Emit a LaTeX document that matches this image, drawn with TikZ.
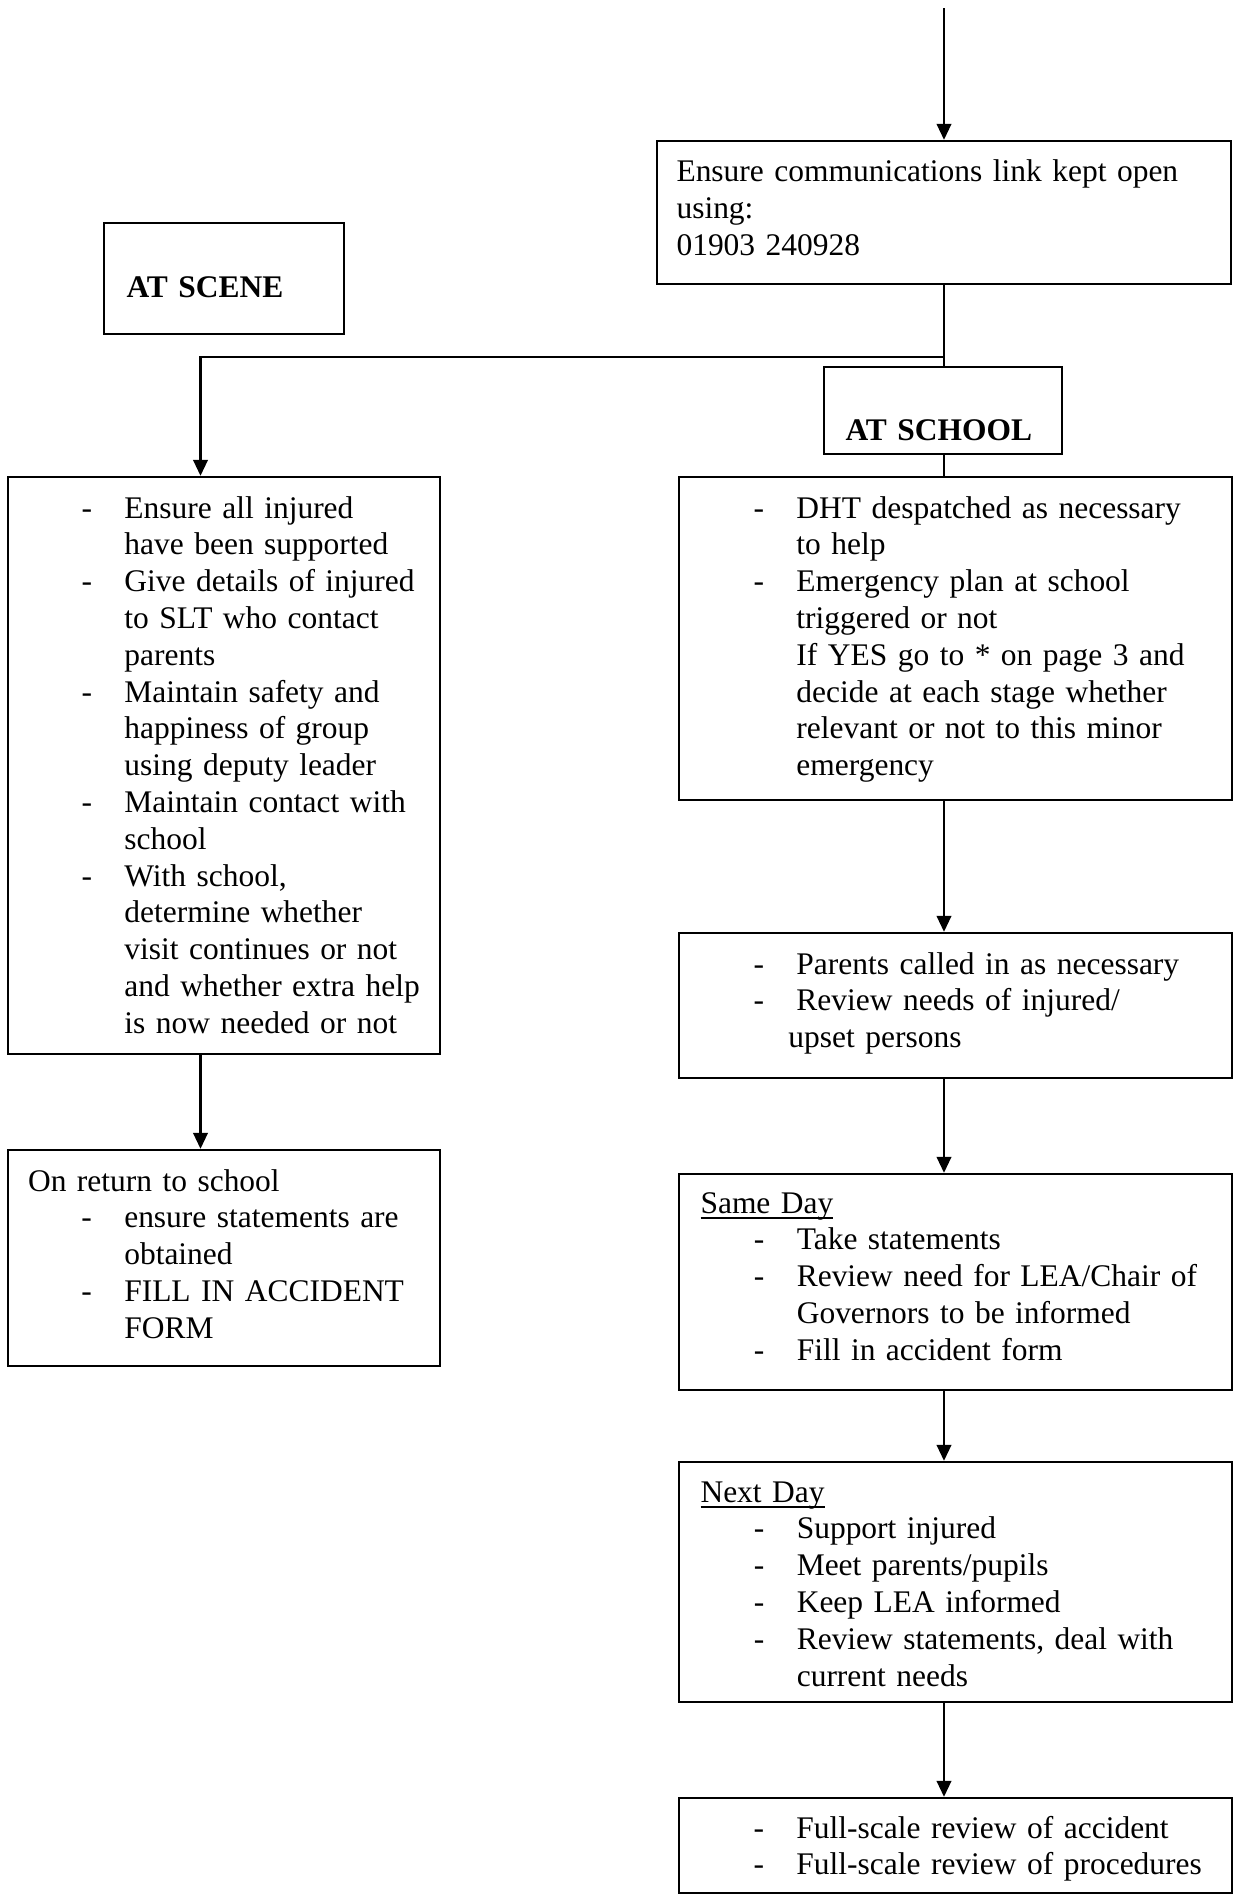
\documentclass[tikz,border=0pt]{standalone}
\usepackage{fontspec}
\setmainfont{Liberation Serif}
\usetikzlibrary{arrows.meta,fit}

\newcommand\dl[1]{\makebox[16.1pt][l]{-}#1}
\newcommand\cl[1]{\hspace*{16.1pt}#1}
\newcommand\hd{\hspace*{20pt}}
\newcommand\ulin[1]{\setbox0\hbox{#1}\rlap{\rule[-2.1pt]{\wd0}{0.75pt}}\box0}

\begin{document}
\begin{tikzpicture}[x=0.375pt,y=-0.375pt,
  box/.style={draw,line width=0.85pt,inner sep=0pt},
  txt/.style={anchor=base west,inner sep=0pt,text width=230pt,align=left,font=\fontsize{11.8}{13.8}\selectfont},
  btxt/.style={txt,font=\fontsize{11.8}{13.8}\selectfont\bfseries},
  arr/.style={line width=0.95pt,-{Triangle[length=6pt,width=5.4pt]}},
  con/.style={line width=0.95pt}]
\useasboundingbox (0,0) rectangle (1233,1894);

% boxes
\node[box,fit={(104,223)(344,334)}] (scene) {};
\node[btxt] (scenet) at (126,297) {AT SCENE};

\node[box,fit={(657,141)(1231,284)}] (comms) {};
\node[txt] (commst) at (676,181.5) {Ensure communications link kept open\\using:\\01903 240928};

\node[box,fit={(824,367)(1062,454)}] (school) {};
\node[btxt] (schoolt) at (845,440) {AT SCHOOL};

\node[box,fit={(8,477)(440,1054)}] (scenebox) {};
\node[txt] (scenelist) at (81,518) {\dl{Ensure all injured}\\\cl{have been supported}\\\dl{Give details of injured}\\\cl{to SLT who contact}\\\cl{parents}\\\dl{Maintain safety and}\\\cl{happiness of group}\\\cl{using deputy leader}\\\dl{Maintain contact with}\\\cl{school}\\\dl{With school,}\\\cl{determine whether}\\\cl{visit continues or not}\\\cl{and whether extra help}\\\cl{is now needed or not}};

\node[box,fit={(679,477)(1232,800)}] (dht) {};
\node[txt] (dhtt) at (753,518) {\dl{DHT despatched as necessary}\\\cl{to help}\\\dl{Emergency plan at school}\\\cl{triggered or not}\\\cl{If YES go to * on page 3 and}\\\cl{decide at each stage whether}\\\cl{relevant or not to this minor}\\\cl{emergency}};

\node[box,fit={(679,933)(1232,1078)}] (parents) {};
\node[txt] (parentst) at (753,974) {\dl{Parents called in as necessary}\\\dl{Review needs of injured/}\\\hspace*{13.1pt}upset persons};

\node[box,fit={(8,1150)(440,1366)}] (ret) {};
\node[txt] (rett) at (27.5,1191) {On return to school\\\hd\dl{ensure statements are}\\\hd\cl{obtained}\\\hd\dl{FILL IN ACCIDENT}\\\hd\cl{FORM}};

\node[box,fit={(679,1174)(1232,1390)}] (same) {};
\node[txt] (samet) at (700,1213) {\ulin{Same Day}\\\hd\dl{Take statements}\\\hd\dl{Review need for LEA/Chair of}\\\hd\cl{Governors to be informed}\\\hd\dl{Fill in accident form}};

\node[box,fit={(679,1462)(1232,1702)}] (next) {};
\node[txt] (nextt) at (700,1502) {\ulin{Next Day}\\\hd\dl{Support injured}\\\hd\dl{Meet parents/pupils}\\\hd\dl{Keep LEA informed}\\\hd\dl{Review statements, deal with}\\\hd\cl{current needs}};

\node[box,fit={(679,1798)(1232,1893)}] (final) {};
\node[txt] (finalt) at (753,1838) {\dl{Full-scale review of accident}\\\dl{Full-scale review of procedures}};

% connectors
\coordinate (top) at (944,8);
\coordinate (cx) at (944,0);
\coordinate (lx) at (200.5,0);
\coordinate (j) at (944,357);
\draw[arr] (top) -- (comms.north -| cx);
\draw[con] (comms.south -| cx) -- (school.north -| cx);
\draw[arr] (j) -| (scenebox.north -| lx);
\draw[con] (school.south -| cx) -- (dht.north -| cx);
\draw[arr] (dht.south -| cx) -- (parents.north -| cx);
\draw[arr] (parents.south -| cx) -- (same.north -| cx);
\draw[arr] (same.south -| cx) -- (next.north -| cx);
\draw[arr] (next.south -| cx) -- (final.north -| cx);
\draw[arr] (scenebox.south -| lx) -- (ret.north -| lx);
\end{tikzpicture}
\end{document}
